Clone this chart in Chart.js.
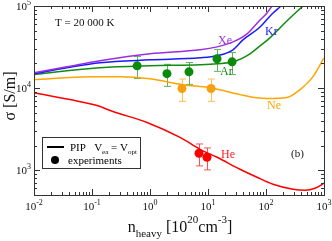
<!DOCTYPE html>
<html>
<head>
<meta charset="utf-8">
<script src="https://cdn.jsdelivr.net/npm/chart.js@4.4.1/dist/chart.umd.min.js"></script>
<style>
  html, body { margin: 0; padding: 0; background: #fff; }
  #wrap { position: relative; width: 332px; height: 241px; }
</style>
</head>
<body>
<div id="wrap"><canvas id="sigma"></canvas></div>
<script>
// PIP curves, conductivity in S/m against heavy particle density (1e20 cm^-3)
const xeN = [0.01, 0.037, 0.137, 1, 7.3, 14.3, 27, 47, 79, 104, 127];
const xeSigma = [15400, 18200, 21500, 26200, 29300, 31800, 36600, 45800, 67600, 82200, 100000];

const krN = [0.01, 0.037, 0.137, 1, 7.3, 14.3, 27, 40, 79, 127, 182];
const krSigma = [15000, 17700, 20400, 22100, 23400, 24800, 29300, 38700, 55600, 80000, 100000];

const arN = [0.01, 0.037, 0.137, 1, 7.3, 14.3, 27, 53, 79, 117, 174, 259, 434];
const arSigma = [14600, 16300, 17700, 18700, 19300, 19800, 20900, 26200, 32700, 40900, 54100, 71600, 100000];

const neN = [0.01, 0.0924, 0.304, 1, 3.7, 10.8, 35.6, 64.6, 104, 230, 386, 646, 1000];
const neSigma = [12700, 13800, 13800, 13000, 11000, 10100, 8340, 7680, 7460, 7680, 9590, 13800, 23400];

const heN = [0.01, 0.0418, 0.122, 0.23, 0.89, 3.29, 7.3, 14.3, 35.6, 70, 132, 292, 470, 700, 1000];
const heSigma = [8800, 7260, 6140, 5190, 3820, 2510, 1800, 1440, 1030, 822, 676, 589, 573, 605, 695];

// experiments
const arExpN = [0.6, 1.96, 4.7, 14.3, 26];
const arExpSigma = [18700, 15000, 15800, 22800, 20900];
const arExpErr = [5600, 4500, 4700, 6800, 6300];

const neExpN = [3.56, 11.3];
const neExpSigma = [9900, 9900];
const neExpErr = [3000, 3000];

const heExpN = [7.0, 9.6];
const heExpSigma = [1610, 1440];
const heExpErr = [480, 430];

const nTicks = [0.01, 0.1, 1, 10, 100, 1000];
const sigmaTicks = [1000, 10000, 100000];

const SERIF = '"Liberation Serif", "DejaVu Serif", serif';

function pts(xs, ys) {
  return xs.map((x, i) => ({ x: x, y: ys[i] }));
}

function curve(label, xs, ys, color) {
  return {
    label: label,
    data: pts(xs, ys),
    showLine: true,
    borderColor: color,
    borderWidth: 1.5,
    pointRadius: 0,
    cubicInterpolationMode: 'monotone',
    fill: false
  };
}

function expts(label, xs, ys, errs, color, barColor) {
  return {
    label: label,
    data: xs.map((x, i) => ({ x: x, y: ys[i], err: errs[i] })),
    showLine: false,
    backgroundColor: color,
    borderColor: color,
    borderWidth: 0,
    pointRadius: 4.5,
    errColor: barColor
  };
}

// text with sub/superscripts, runs = [{t, size, dy}]
function runs(ctx, parts, x, y, align) {
  let w = 0;
  parts.forEach(p => {
    ctx.font = p.size + 'px ' + SERIF;
    p.w = ctx.measureText(p.t).width;
    w += p.w;
  });
  let cx = align === 'center' ? x - w / 2 : align === 'right' ? x - w : x;
  ctx.textAlign = 'left';
  parts.forEach(p => {
    ctx.font = p.size + 'px ' + SERIF;
    ctx.fillText(p.t, cx, y + (p.dy || 0));
    cx += p.w;
  });
}

function pow10(v) {
  const e = Math.round(Math.log10(v));
  return [{ t: '10', size: 11 }, { t: String(e), size: 8, dy: -5 }];
}

const errorBars = {
  id: 'errorBars',
  beforeDatasetsDraw(chart) {
    const ctx = chart.ctx;
    const xs = chart.scales.x, ys = chart.scales.y;
    ctx.save();
    chart.data.datasets.forEach(ds => {
      if (!ds.errColor) return;
      ctx.strokeStyle = ds.errColor;
      ctx.lineWidth = 1;
      ds.data.forEach(p => {
        const px = Math.round(xs.getPixelForValue(p.x)) + 0.5;
        const y1 = ys.getPixelForValue(p.y - p.err);
        const y2 = ys.getPixelForValue(p.y + p.err);
        ctx.beginPath();
        ctx.moveTo(px, y1); ctx.lineTo(px, y2);
        ctx.moveTo(px - 3.5, y1); ctx.lineTo(px + 3.5, y1);
        ctx.moveTo(px - 3.5, y2); ctx.lineTo(px + 3.5, y2);
        ctx.stroke();
      });
    });
    ctx.restore();
  }
};

const frame = {
  id: 'frame',
  afterDraw(chart) {
    const ctx = chart.ctx;
    const a = chart.chartArea;
    const xs = chart.scales.x, ys = chart.scales.y;
    ctx.save();
    ctx.strokeStyle = '#333';
    ctx.fillStyle = '#111';
    ctx.lineWidth = 1;
    ctx.strokeRect(Math.round(a.left) + 0.5, Math.round(a.top) + 0.5,
      Math.round(a.right - a.left), Math.round(a.bottom - a.top));

    // inward ticks on all four sides
    ctx.beginPath();
    for (let d = -2; d <= 3; d++) {
      for (let k = 1; k <= 9; k++) {
        const v = k * Math.pow(10, d);
        if (v > xs.max * 1.0001) break;
        const px = Math.round(xs.getPixelForValue(v)) + 0.5;
        const len = k === 1 ? 6 : 3;
        ctx.moveTo(px, a.bottom); ctx.lineTo(px, a.bottom - len);
        ctx.moveTo(px, a.top); ctx.lineTo(px, a.top + len);
      }
    }
    for (let d = 2; d <= 5; d++) {
      for (let k = 1; k <= 9; k++) {
        const v = k * Math.pow(10, d);
        if (v < ys.min * 0.9999 || v > ys.max * 1.0001) continue;
        const py = Math.round(ys.getPixelForValue(v)) + 0.5;
        const len = k === 1 ? 6 : 3;
        ctx.moveTo(a.left, py); ctx.lineTo(a.left + len, py);
        ctx.moveTo(a.right, py); ctx.lineTo(a.right - len, py);
      }
    }
    ctx.stroke();

    // tick labels
    ctx.textBaseline = 'alphabetic';
    nTicks.forEach(v => runs(ctx, pow10(v), xs.getPixelForValue(v), a.bottom + 15, 'center'));
    sigmaTicks.forEach(v => runs(ctx, pow10(v), a.left - 3, ys.getPixelForValue(v) + 4, 'right'));

    // axis titles
    runs(ctx, [
      { t: 'n', size: 16 },
      { t: 'heavy', size: 11, dy: 5 },
      { t: ' [10', size: 16 },
      { t: '20', size: 11, dy: -9 },
      { t: 'cm', size: 16 },
      { t: '-3', size: 11, dy: -9 },
      { t: ']', size: 16 }
    ], 180, 232, 'center');
    ctx.save();
    ctx.translate(15, 96);
    ctx.rotate(-Math.PI / 2);
    ctx.textAlign = 'center';
    ctx.font = '16px ' + SERIF;
    ctx.fillText('\u03c3 [S/m]', 0, 0);
    ctx.restore();

    // annotations
    ctx.font = '11px ' + SERIF;
    ctx.textAlign = 'left';
    ctx.textBaseline = 'middle';
    ctx.fillText('T = 20 000 K', 55, 23);
    ctx.fillText('(b)', 291, 154);
    ctx.font = '12px ' + SERIF;
    [['Xe', '#9b2fdb', 218, 41], ['Kr', '#1a1aff', 265, 32], ['Ar', '#118c11', 220, 72],
     ['Ne', '#ffa500', 267, 106], ['He', '#ff1a1a', 221, 155]].forEach(l => {
      ctx.fillStyle = l[1];
      ctx.fillText(l[0], l[2], l[3]);
    });

    // legend box
    ctx.fillStyle = '#fff';
    ctx.fillRect(42, 137, 98, 31);
    ctx.strokeStyle = '#333';
    ctx.strokeRect(42.5, 137.5, 98, 31);
    ctx.strokeStyle = '#000';
    ctx.lineWidth = 2;
    ctx.beginPath(); ctx.moveTo(47, 147); ctx.lineTo(64, 147); ctx.stroke();
    ctx.fillStyle = '#000';
    ctx.beginPath(); ctx.arc(55, 160, 4, 0, Math.PI * 2); ctx.fill();
    ctx.textBaseline = 'alphabetic';
    runs(ctx, [
      { t: 'PIP   V', size: 11 },
      { t: 'ea', size: 7, dy: 3 },
      { t: ' = V', size: 11 },
      { t: 'opt', size: 7, dy: 3 }
    ], 70, 151, 'left');
    runs(ctx, [{ t: 'experiments', size: 11 }], 68, 164, 'left');
    ctx.restore();
  }
};

new Chart(document.getElementById('sigma'), {
  type: 'scatter',
  data: {
    datasets: [
      expts('Ar experiments', arExpN, arExpSigma, arExpErr, '#0a8a0a', '#5fb35f'),
      expts('Ne experiments', neExpN, neExpSigma, neExpErr, '#f5a010', '#ffbf50'),
      expts('He experiments', heExpN, heExpSigma, heExpErr, '#ff0000', '#ff5050'),
      curve('Xe', xeN, xeSigma, '#9b2fdb'),
      curve('Kr', krN, krSigma, '#1a1aff'),
      curve('Ar', arN, arSigma, '#118c11'),
      curve('Ne', neN, neSigma, '#ffa500'),
      curve('He', heN, heSigma, '#ff0000')
    ]
  },
  options: {
    responsive: true,
    maintainAspectRatio: false,
    animation: false,
    layout: { padding: { left: 0, right: 8, top: 6, bottom: 0 } },
    plugins: { legend: { display: false }, tooltip: { enabled: false } },
    scales: {
      x: {
        type: 'logarithmic',
        min: 0.01,
        max: 1000,
        grid: { display: false, drawTicks: false },
        border: { display: false },
        ticks: { display: false },
        afterFit: s => { s.height = 46; }
      },
      y: {
        type: 'logarithmic',
        min: 500,
        max: 100000,
        grid: { display: false, drawTicks: false },
        border: { display: false },
        ticks: { display: false },
        afterFit: s => { s.width = 34; }
      }
    }
  },
  plugins: [errorBars, frame]
});
</script>
</body>
</html>
